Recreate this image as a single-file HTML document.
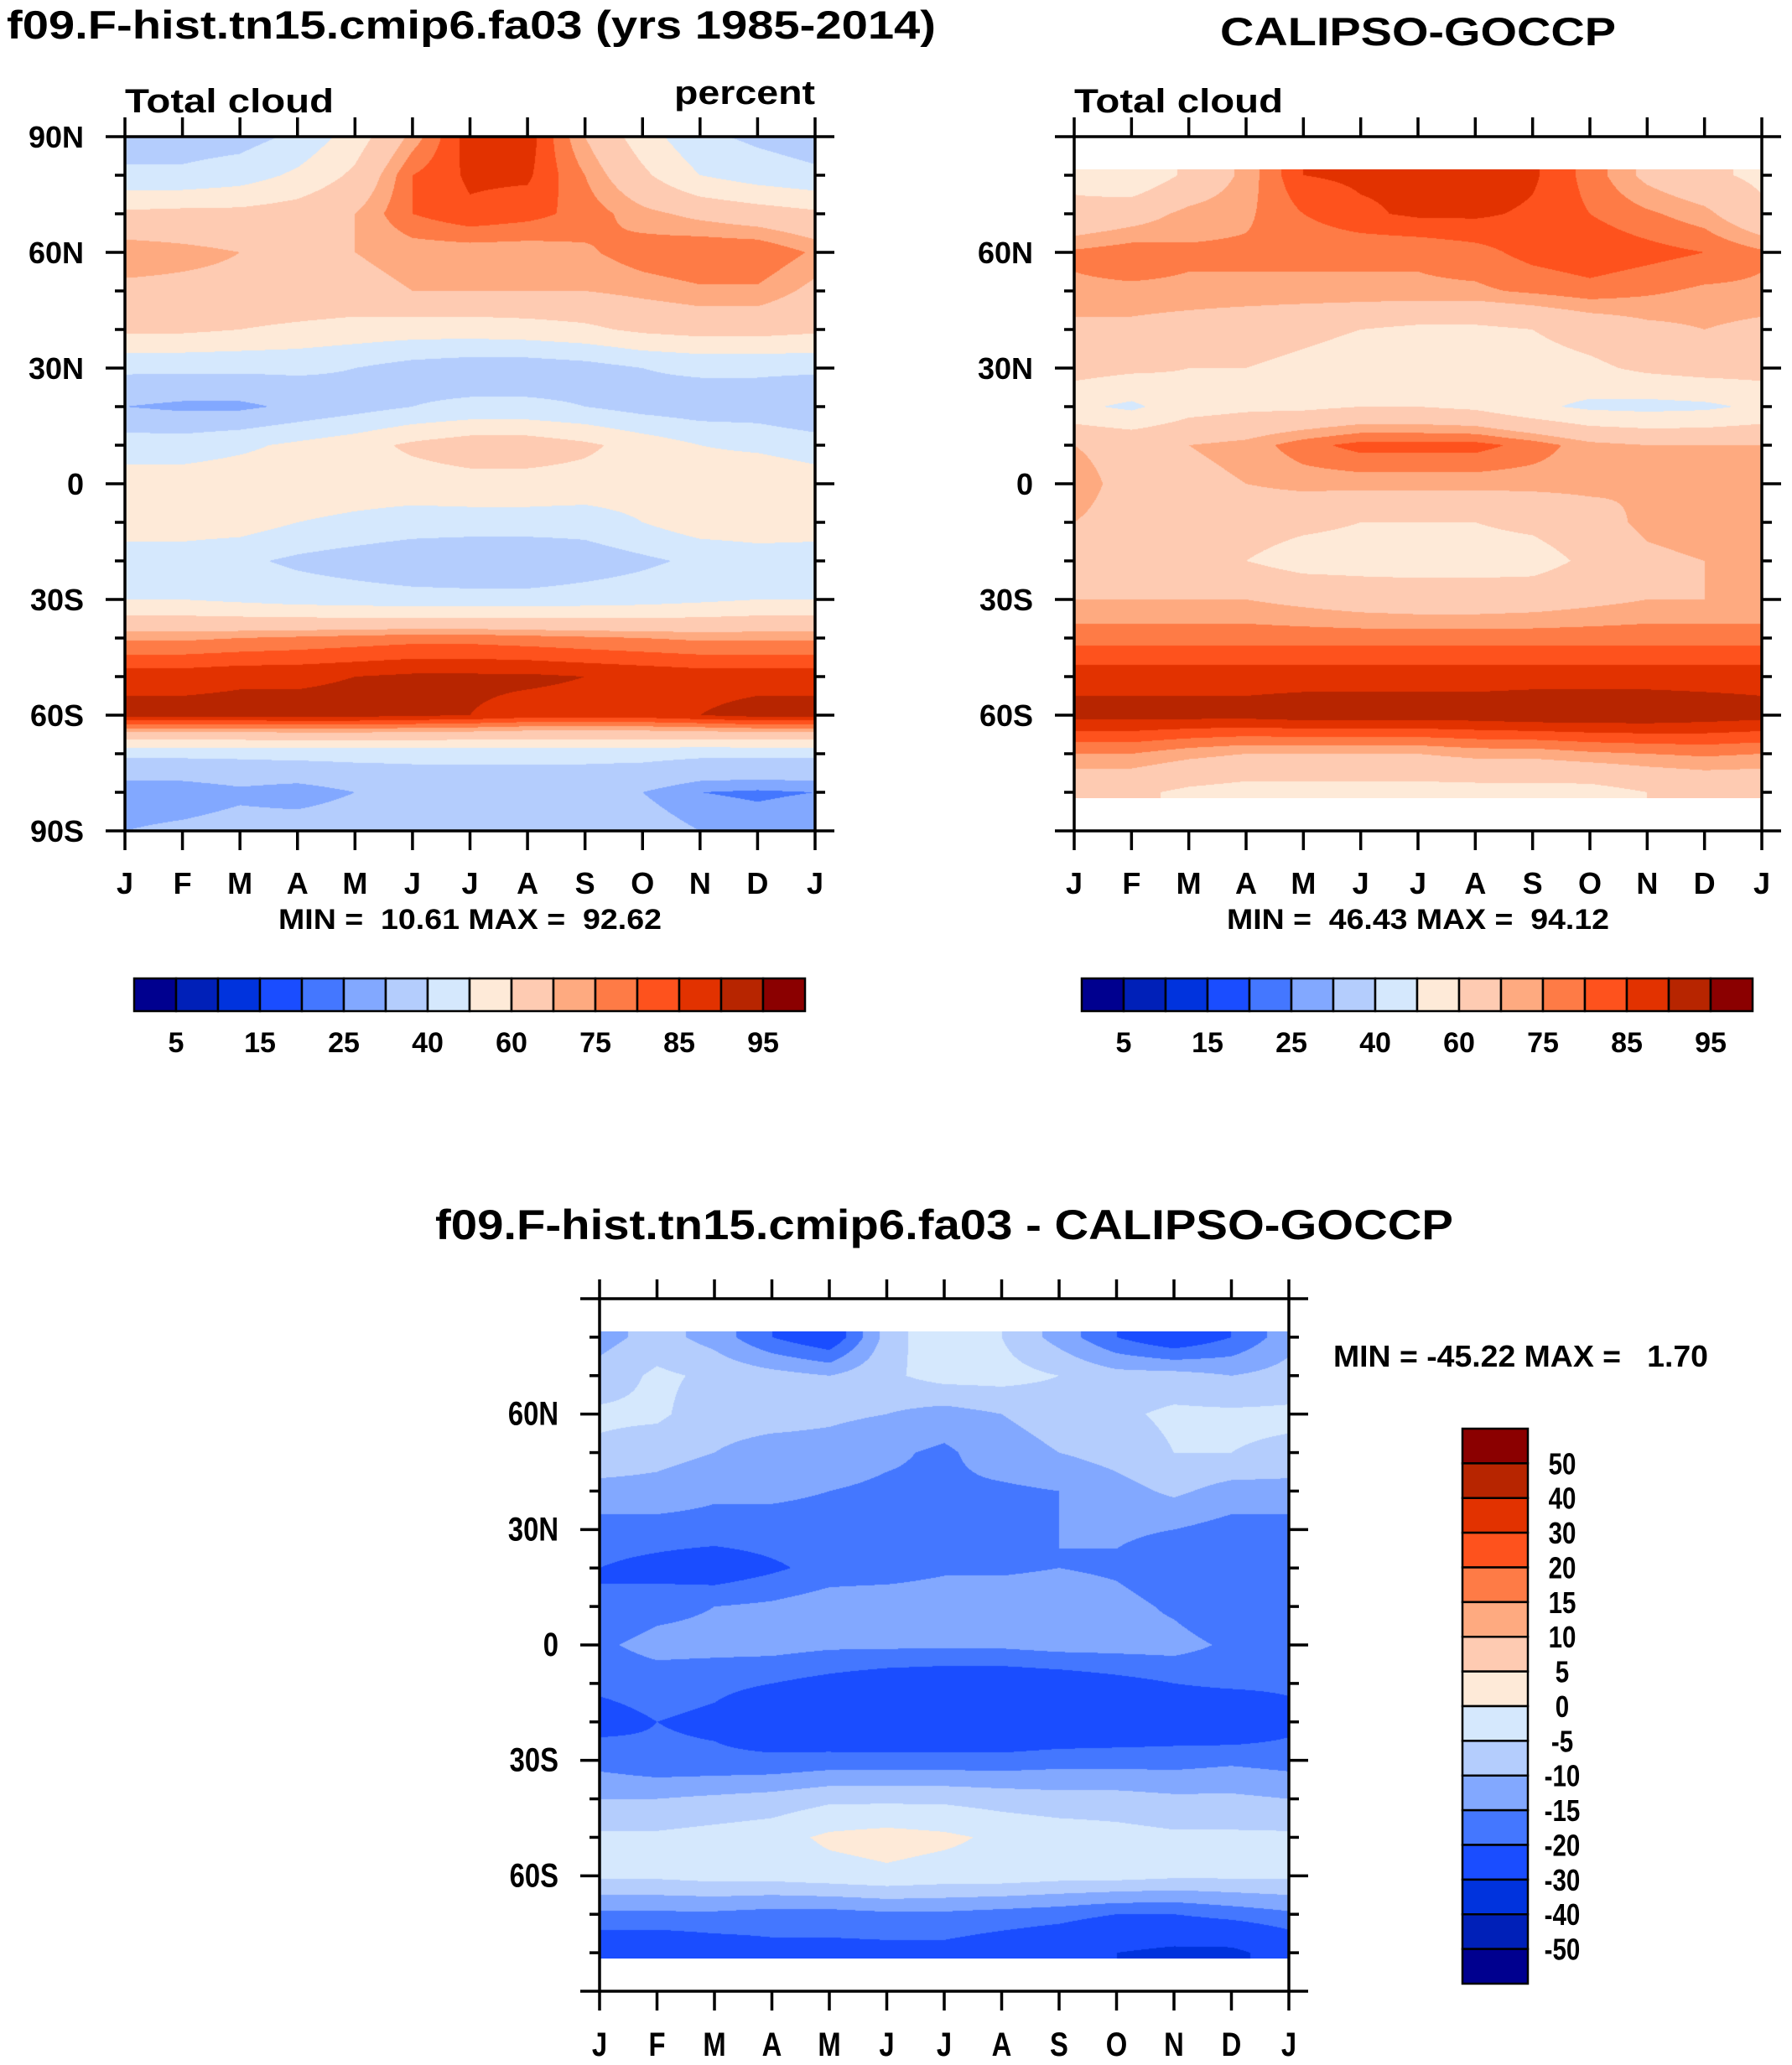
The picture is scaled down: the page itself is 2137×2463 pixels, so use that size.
<!DOCTYPE html>
<html><head><meta charset="utf-8">
<style>
html,body{margin:0;padding:0;background:#fff;}
#wrap{position:relative;width:2137px;height:2463px;overflow:hidden;}
canvas{position:absolute;}
svg{position:absolute;left:0;top:0;}
text{font-family:"Liberation Sans",Arial,sans-serif;font-weight:bold;fill:#000;white-space:pre;}
</style></head>
<body>
<div id="wrap">
<canvas id="c1"></canvas>
<canvas id="c2"></canvas>
<canvas id="c3"></canvas>
<svg id="ov" width="2137" height="2463"></svg>
</div>
<script>
// ---- data: rows = latitude bands (top to bottom, 10° steps), cols = Jan..Jan (13) ----
const months = ["J","F","M","A","M","J","J","A","S","O","N","D","J"];
const absLevels = [5,10,15,20,25,30,40,50,60,70,75,80,85,90,95];
const absLabels = ["5","15","25","40","60","75","85","95"];
const diffLevels = [-50,-40,-30,-20,-15,-10,-5,0,5,10,15,20,30,40,50];
const diffLabels = ["50","40","30","20","15","10","5","0","-5","-10","-15","-20","-30","-40","-50"];
const latTicksMain = ["90N","60N","30N","0","30S","60S","90S"];
const latTicksSub = ["60N","30N","0","30S","60S"];
// model total cloud, 90N..90S
const modelGrid = [
[35,35,36,42,55,72,88,88,70,55,42,38,35],
[42,42,45,52,62,80,86,86,75,62,50,45,42],
[62,63,63,65,70,80,84,82,78,72,68,65,62],
[74,72,70,68,70,72,72,72,74,78,80,80,74],
[68,68,68,68,68,70,70,70,70,72,74,74,68],
[62,62,60,58,56,55,55,56,58,62,64,64,62],
[42,42,42,42,40,36,34,34,36,40,42,42,42],
[30,28,28,32,36,40,42,42,40,36,34,34,30],
[45,45,48,52,56,62,66,66,62,56,50,48,45],
[55,55,56,56,55,55,56,56,56,55,56,58,55],
[55,55,55,50,48,46,46,46,45,50,56,56,55],
[45,45,42,38,35,32,30,30,34,38,42,45,45],
[50,50,48,46,45,44,44,44,45,46,48,50,50],
[74,74,75,76,77,78,78,77,76,75,74,74,74],
[88,88,89,89,90,91,91,91,90,89,88,88,88],
[92,92,92,92,92,91,90,88,88,88,90,92,92],
[42,42,42,43,43,43,43,43,43,43,42,42,42],
[25,25,28,26,30,32,32,32,32,30,25,24,25],
[30,32,34,35,36,36,38,38,36,34,30,28,30]];
// CALIPSO-GOCCP, 80N..80S
const obsGrid = [
[58,52,62,72,85,86,86,90,86,78,68,62,58],
[62,66,72,74,80,84,86,86,84,80,76,72,62],
[76,78,76,76,76,76,76,78,82,84,82,80,76],
[74,74,74,74,74,74,74,74,76,78,76,74,74],
[68,68,66,64,62,60,58,58,60,64,68,70,68],
[64,62,60,60,58,56,56,56,56,58,62,64,64],
[52,48,56,58,58,60,60,58,52,48,47,48,52],
[70,68,70,72,78,82,82,82,78,72,70,70,70],
[72,68,68,70,72,72,72,72,72,72,70,72,72],
[70,68,66,64,62,60,60,60,62,66,72,74,70],
[70,68,64,60,56,56,56,56,56,62,68,70,70],
[70,70,70,70,68,66,65,65,66,68,70,70,70],
[78,78,78,78,78,78,78,78,78,78,78,78,78],
[88,88,88,88,88,88,88,88,88,88,88,88,88],
[92,92,92,92,93,93,93,93,94,94,94,93,92],
[75,75,72,70,70,70,70,72,72,74,75,76,75],
[62,62,58,56,56,56,56,56,56,56,60,62,62]];
// model - obs, 80N..80S
const diffGrid = [
[-12,-8,-12,-20,-25,-8,0,-5,-12,-20,-25,-20,-12],
[-8,-4,-6,-8,-10,-6,-3,-3,-5,-8,-8,-10,-8],
[-4,-4,-8,-8,-9,-10,-12,-10,-8,-6,-4,-4,-4],
[-6,-8,-10,-12,-12,-14,-16,-12,-10,-8,-5,-5,-6],
[-12,-12,-14,-14,-15,-16,-16,-16,-15,-12,-9,-12,-12],
[-17,-17,-17,-17,-17,-16,-16,-15,-15,-14,-15,-17,-17],
[-20,-22,-24,-21,-18,-18,-16,-16,-15,-16,-19,-20,-20],
[-20,-17,-15,-14,-12,-11,-11,-11,-11,-13,-16,-20,-20],
[-16,-13,-13,-13,-14,-14,-14,-14,-13,-13,-13,-16,-16],
[-19,-18,-19,-20,-22,-24,-25,-25,-24,-22,-20,-19,-19],
[-22,-20,-21,-24,-27,-28,-28,-28,-27,-26,-25,-26,-22],
[-17,-19,-19,-19,-18,-18,-18,-18,-17,-17,-17,-16,-17],
[-10,-10,-9,-8,-6,-6,-6,-7,-8,-8,-9,-9,-10],
[-4,-4,-3,-2,1,2,1,-1,-2,-3,-4,-4,-4],
[-4,-4,-3,-3,-2,-1,-2,-2,-3,-3,-4,-4,-4],
[-16,-16,-16,-17,-17,-16,-16,-17,-18,-20,-20,-18,-16],
[-26,-26,-24,-22,-22,-22,-22,-24,-26,-30,-32,-32,-26]];

const COLORS = ["#00008f","#0020b8","#0033dd","#1a4dff","#4477ff","#82a8ff","#b4cdfd","#d5e8fd","#feead8","#fecbb2","#feaa80","#fe7b46","#fe521d","#e23200","#b72500","#8b0000"];
function hex(c){return [parseInt(c.substr(1,2),16),parseInt(c.substr(3,2),16),parseInt(c.substr(5,2),16)];}
const RGB = COLORS.map(hex);

const P1={x:149,y:163,w:823,h:828};
const P2={x:1281,y:163,w:820,h:828};
const P3={x:715,y:1549,w:822,h:826};

function latToY(p,lat){return p.y+(90-lat)/180*p.h;}
function monToX(p,m){return p.x+m/12*p.w;}

function drawField(id,p,grid,topLat,levels,latTop,latBot){
  const cv=document.getElementById(id);
  const y0=Math.round(latToY(p,latTop)), y1=Math.round(latToY(p,latBot));
  cv.width=p.w; cv.height=y1-y0;
  cv.style.left=p.x+'px'; cv.style.top=y0+'px';
  const ctx=cv.getContext('2d');
  const img=ctx.createImageData(cv.width,cv.height);
  const nr=grid.length;
  for(let j=0;j<cv.height;j++){
    const lat=90-((y0+j+0.5)-p.y)/p.h*180;
    let r=(topLat-lat)/10; r=Math.max(0,Math.min(nr-1.0001,r));
    const r0=Math.floor(r), fr=r-r0;
    for(let i=0;i<cv.width;i++){
      let m=(i+0.5)/p.w*12; const c0=Math.min(11,Math.floor(m)), fc=m-c0;
      const v=(grid[r0][c0]*(1-fc)+grid[r0][c0+1]*fc)*(1-fr)+(grid[r0+1][c0]*(1-fc)+grid[r0+1][c0+1]*fc)*fr;
      let k=0; while(k<levels.length && v>=levels[k]) k++;
      const col=RGB[k], o=(j*cv.width+i)*4;
      img.data[o]=col[0];img.data[o+1]=col[1];img.data[o+2]=col[2];img.data[o+3]=255;
    }
  }
  ctx.putImageData(img,0,0);
}
drawField('c1',P1,modelGrid,90,absLevels,90,-90);
drawField('c2',P2,obsGrid,80,absLevels,81.5,-81.5);
drawField('c3',P3,diffGrid,80,diffLevels,81.5,-81.5);

const NS='http://www.w3.org/2000/svg';
const ov=document.getElementById('ov');
function el(tag,attrs,parent){const e=document.createElementNS(NS,tag);for(const k in attrs)e.setAttribute(k,attrs[k]);(parent||ov).appendChild(e);return e;}
function txt(s,x,y,size,anchor,len,name){
  const t=el('text',{x:x,y:y,'font-size':size,'text-anchor':anchor||'start'});
  if(len){t.setAttribute('textLength',len);t.setAttribute('lengthAdjust','spacingAndGlyphs');}
  
  
  t.textContent=s;return t;
}

function axes(p,name,latLabels,labelRight,condensed,monY){
  const g=el('g',{});
  
  
  el('rect',{x:p.x,y:p.y,width:p.w,height:p.h,fill:'none',stroke:'#000','stroke-width':3.5},g);
  for(let m=0;m<=12;m++){
    const x=monToX(p,m);
    el('line',{x1:x,y1:p.y,x2:x,y2:p.y-23,stroke:'#000','stroke-width':3.5},g);
    el('line',{x1:x,y1:p.y+p.h,x2:x,y2:p.y+p.h+23,stroke:'#000','stroke-width':3.5},g);
    const t=txt(months[m],x,monY,condensed?40:36,'middle',null,'month-label');
    if(condensed){t.setAttribute('transform',`translate(${x},0) scale(0.82,1) translate(${-x},0)`);}
    g.appendChild(t);
  }
  for(let lat=90;lat>=-90;lat-=10){
    const y=latToY(p,lat), major=(lat%30===0), L=major?23:12;
    el('line',{x1:p.x,y1:y,x2:p.x-L,y2:y,stroke:'#000','stroke-width':3.5},g);
    el('line',{x1:p.x+p.w,y1:y,x2:p.x+p.w+L,y2:y,stroke:'#000','stroke-width':3.5},g);
  }
  latLabels.forEach(s=>{
    let lat = s==="0"?0: parseInt(s)*(s.endsWith('S')?-1:1);
    const y=latToY(p,lat)+13;
    const t=txt(s,labelRight,y,condensed?40:36,'end',null,'lat-label');
    if(condensed){t.setAttribute('transform',`translate(${labelRight},0) scale(0.82,1) translate(${-labelRight},0)`);}
    g.appendChild(t);
  });
}
axes(P1,'model-axes',latTicksMain,100,false,1066);
axes(P2,'obs-axes',latTicksSub,1232,false,1066);
axes(P3,'diff-axes',latTicksSub,666,true,2452);

txt("f09.F-hist.tn15.cmip6.fa03 (yrs 1985-2014)",8,46,47,'start',1108,'model-title');
txt("CALIPSO-GOCCP",1455,54,47,'start',472,'obs-title');
txt("Total cloud",149,134,40,'start',249,'model-subtitle');
txt("percent",804,124,40,'start',168,'units-label');
txt("Total cloud",1281,134,40,'start',249,'obs-subtitle');
txt("MIN =  10.61 MAX =  92.62",332,1108,34,'start',457,'model-minmax');
txt("MIN =  46.43 MAX =  94.12",1463,1108,34,'start',456,'obs-minmax');
txt("f09.F-hist.tn15.cmip6.fa03 - CALIPSO-GOCCP",519,1478,50,'start',1214,'diff-title');
txt("MIN = -45.22 MAX =   1.70",1590,1630,36,'start',447,'diff-minmax');

function hbar(x0,x1,y0,y1,name){
  const g=el('g',{});
  
  
  const w=(x1-x0)/COLORS.length;
  COLORS.forEach((c,i)=>{
    const r=el('rect',{x:x0+i*w,y:y0,width:w,height:y1-y0,fill:c,stroke:'#000','stroke-width':2.5},g);
    
    
  });
  absLabels.forEach((s,k)=>{
    const x=x0+(2*k+1)*w;
    g.appendChild(txt(s,x,1255,34,'middle',null,'colorbar-label'));
  });
}
hbar(160,960,1167,1206,'model-colorbar');
hbar(1290,2090,1167,1206,'obs-colorbar');

(function(){
  const g=el('g',{});
  
  
  const x0=1744,x1=1822,y0=1704,y1=2366,h=(y1-y0)/16;
  for(let i=0;i<16;i++){
    const r=el('rect',{x:x0,y:y0+i*h,width:x1-x0,height:h,fill:COLORS[15-i],stroke:'#000','stroke-width':2.5},g);
    
    
  }
  diffLabels.forEach((s,k)=>{
    const y=y0+(k+1)*h+13, x=1863;
    const t=txt(s,x,y,36,'middle',null,'colorbar-label');
    t.setAttribute('transform',`translate(${x},0) scale(0.82,1) translate(${-x},0)`);
    g.appendChild(t);
  });
})();
</script>
</body></html>
